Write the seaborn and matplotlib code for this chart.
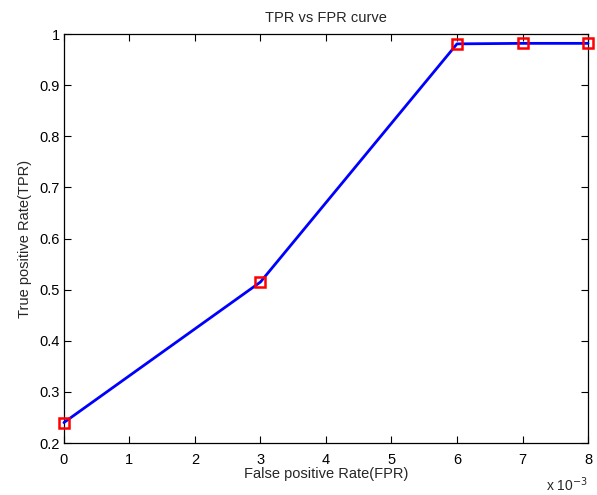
import numpy as np
import pandas as pd
import seaborn as sns
import matplotlib
matplotlib.use('Agg')
import matplotlib.pyplot as plt
from matplotlib.ticker import FuncFormatter

# ── Datos ──────────────────────────────────────────────
fpr = [0.0, 0.003, 0.006, 0.007, 0.008]
tpr = [0.240, 0.515, 0.981, 0.982, 0.982]

x_ticks = [0, 0.001, 0.002, 0.003, 0.004, 0.005, 0.006, 0.007, 0.008]
y_ticks = [0.2, 0.3, 0.4, 0.5, 0.6, 0.7, 0.8, 0.9, 1.0]

df = pd.DataFrame({'FPR': fpr, 'TPR': tpr})

sns.set_theme(style='white')
plt.rcParams['font.family'] = ['Liberation Sans', 'DejaVu Sans']

fig = plt.figure(figsize=(5.97, 4.95), dpi=100)
ax = fig.add_axes([0.107, 0.105, 0.878, 0.826])

sns.lineplot(data=df, x='FPR', y='TPR', ax=ax, color='#0000ff', linewidth=2,
             marker='s', markersize=7.5, markerfacecolor='none',
             markeredgecolor='#ff0000', markeredgewidth=1.8, clip_on=False,
             zorder=5)

ax.set_xlim(0, 0.008)
ax.set_ylim(0.2, 1.0)
ax.set_xticks(x_ticks)
ax.set_yticks(y_ticks)
ax.xaxis.set_major_formatter(FuncFormatter(lambda v, p: f'{v * 1e3:g}'))
ax.yaxis.set_major_formatter(FuncFormatter(lambda v, p: f'{v:g}'))

ax.tick_params(direction='in', length=5, width=0.8, labelsize=10.5,
               top=True, right=True, bottom=True, left=True, pad=3, colors='black')
ax.tick_params(axis='x', pad=7)
for s in ax.spines.values():
    s.set_color('black')
    s.set_linewidth(0.9)

ax.set_xlabel('False positive Rate(FPR)', fontsize=10.5, labelpad=0)
ax.set_ylabel('True positive Rate(TPR)', fontsize=10.5, labelpad=5)
ax.set_title('TPR vs FPR curve', fontsize=10.5, pad=9)
ax.text(1.0, -0.118, r'x 10$^{-3}$', transform=ax.transAxes, ha='right',
        va='baseline', fontsize=10)

fig.savefig('out.png', dpi=100, facecolor='white')
